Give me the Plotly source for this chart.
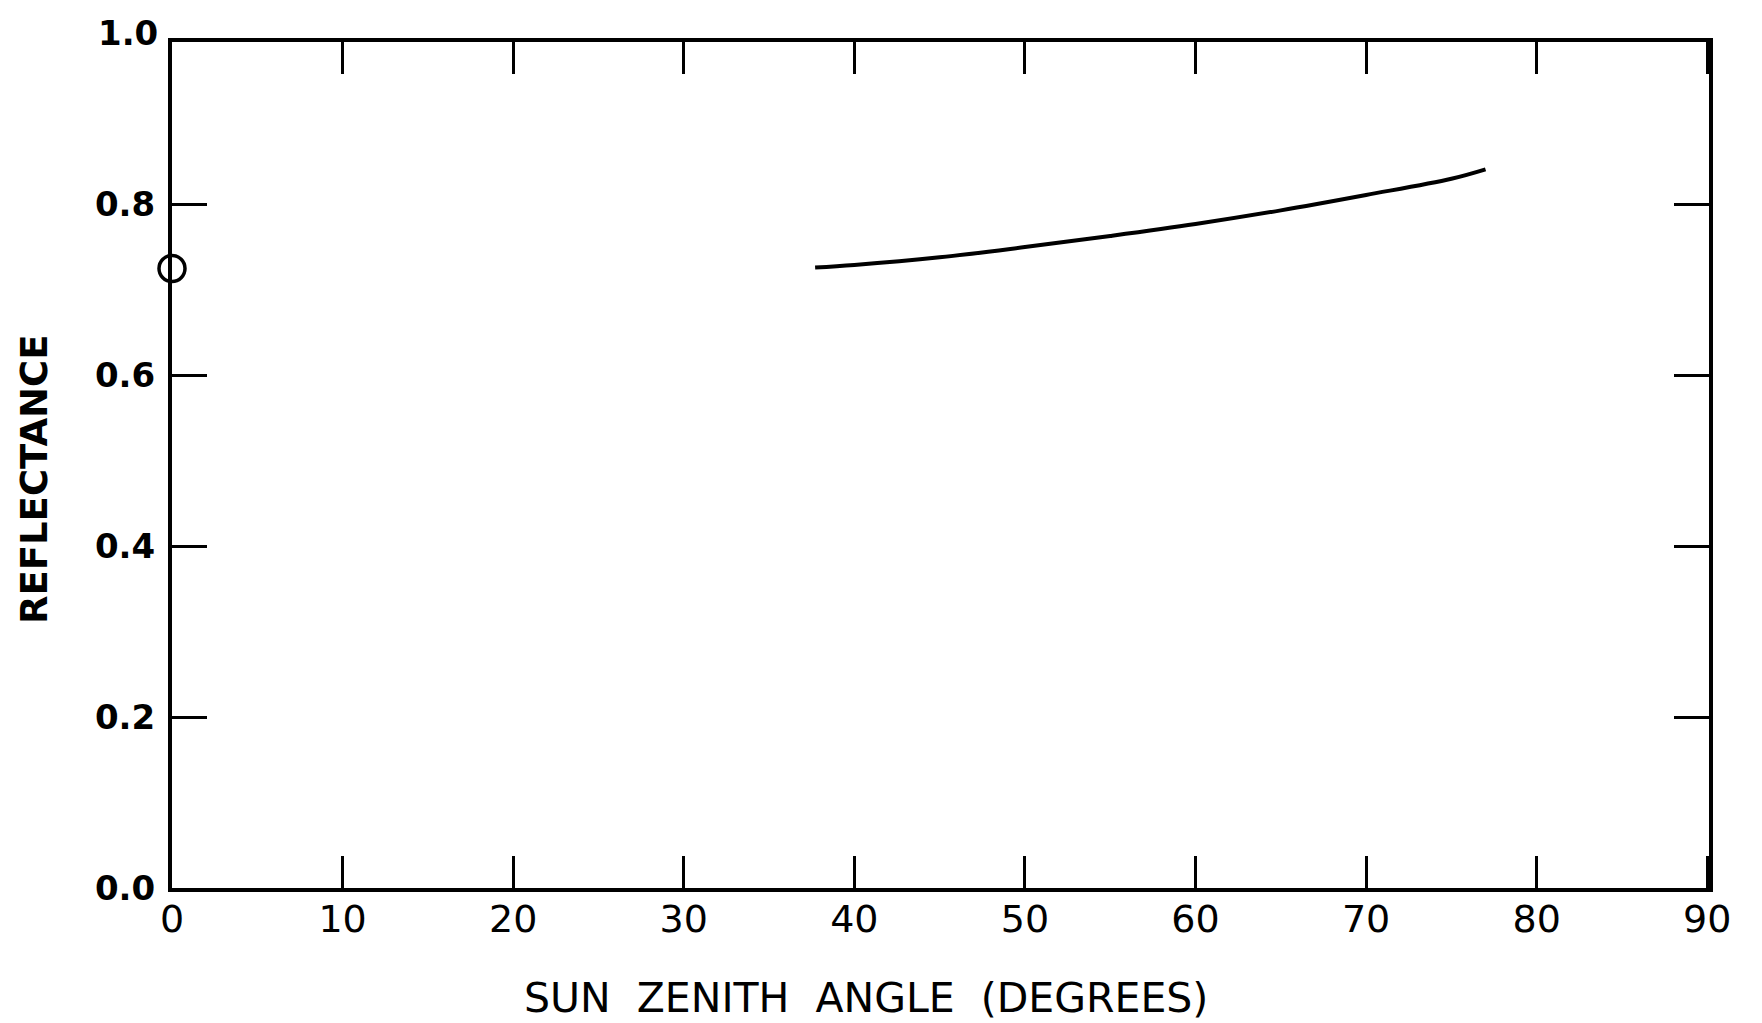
import plotly.graph_objects as go

# Data
curve_angle = [37.7, 40, 45, 50, 55, 60, 65, 70, 75, 77.0]
curve_reflectance = [0.726, 0.729, 0.738, 0.750, 0.763, 0.777, 0.793, 0.811, 0.830, 0.841]
point_angle = [0]
point_reflectance = [0.725]
x_ticks = [0, 10, 20, 30, 40, 50, 60, 70, 80, 90]
y_ticks = [0.0, 0.2, 0.4, 0.6, 0.8]
y_tick_labels = ["0.0", "0.2", "0.4", "0.6", "0.8"]

fig = go.Figure()
fig.add_trace(go.Scatter(x=curve_angle, y=curve_reflectance, mode="lines",
                         line=dict(color="black", width=4, shape="spline", smoothing=1.0),
                         showlegend=False))
fig.add_trace(go.Scatter(x=point_angle, y=point_reflectance, mode="markers",
                         marker=dict(symbol="circle", size=26, color="white",
                                     line=dict(width=3.5, color="black")),
                         cliponaxis=False, showlegend=False))

font_family = "DejaVu Sans"
L, R, T, B = 172, 53, 42, 135
plot_w = 1762 - L - R
plot_h = 1023 - T - B
y_top = 0.99

fig.update_layout(
    width=1762, height=1023,
    margin=dict(l=L, r=R, t=T, b=B),
    plot_bgcolor="white", paper_bgcolor="white",
    xaxis=dict(range=[0, 90.1], tickvals=x_ticks, ticktext=[str(v) for v in x_ticks],
               ticks="inside", ticklen=32, tickwidth=3, tickcolor="black",
               showline=True, linecolor="black", linewidth=4, mirror="allticks",
               showgrid=False, zeroline=False, ticklabelstandoff=-6,
               tickfont=dict(family=font_family, size=38, color="black")),
    yaxis=dict(range=[0, y_top], tickvals=y_ticks, ticktext=y_tick_labels,
               ticks="inside", ticklen=35, tickwidth=3, tickcolor="black",
               showline=True, linecolor="black", linewidth=4, mirror="allticks",
               showgrid=False, zeroline=False, ticklabelstandoff=6,
               tickfont=dict(family=font_family, size=34, color="black", weight="bold")),
    annotations=[
        dict(text="<b>1.0</b>", x=(160 - L) / plot_w, xref="paper", y=1.0 / y_top, yref="paper",
             xanchor="right", yanchor="middle", showarrow=False,
             font=dict(family=font_family, size=34, color="black")),
        dict(text="<b>REFLECTANCE</b>", x=(34 - L) / plot_w, xref="paper",
             y=(888 - 480) / plot_h, yref="paper",
             showarrow=False, textangle=-90, xanchor="center", yanchor="middle",
             font=dict(family=font_family, size=37, color="black")),
        dict(text="SUN  ZENITH  ANGLE  (DEGREES)", x=(866 - L) / plot_w, xref="paper",
             y=(888 - 998) / plot_h, yref="paper", showarrow=False,
             xanchor="center", yanchor="middle",
             font=dict(family=font_family, size=41, color="black")),
    ],
)

fig.write_html("out.html")
